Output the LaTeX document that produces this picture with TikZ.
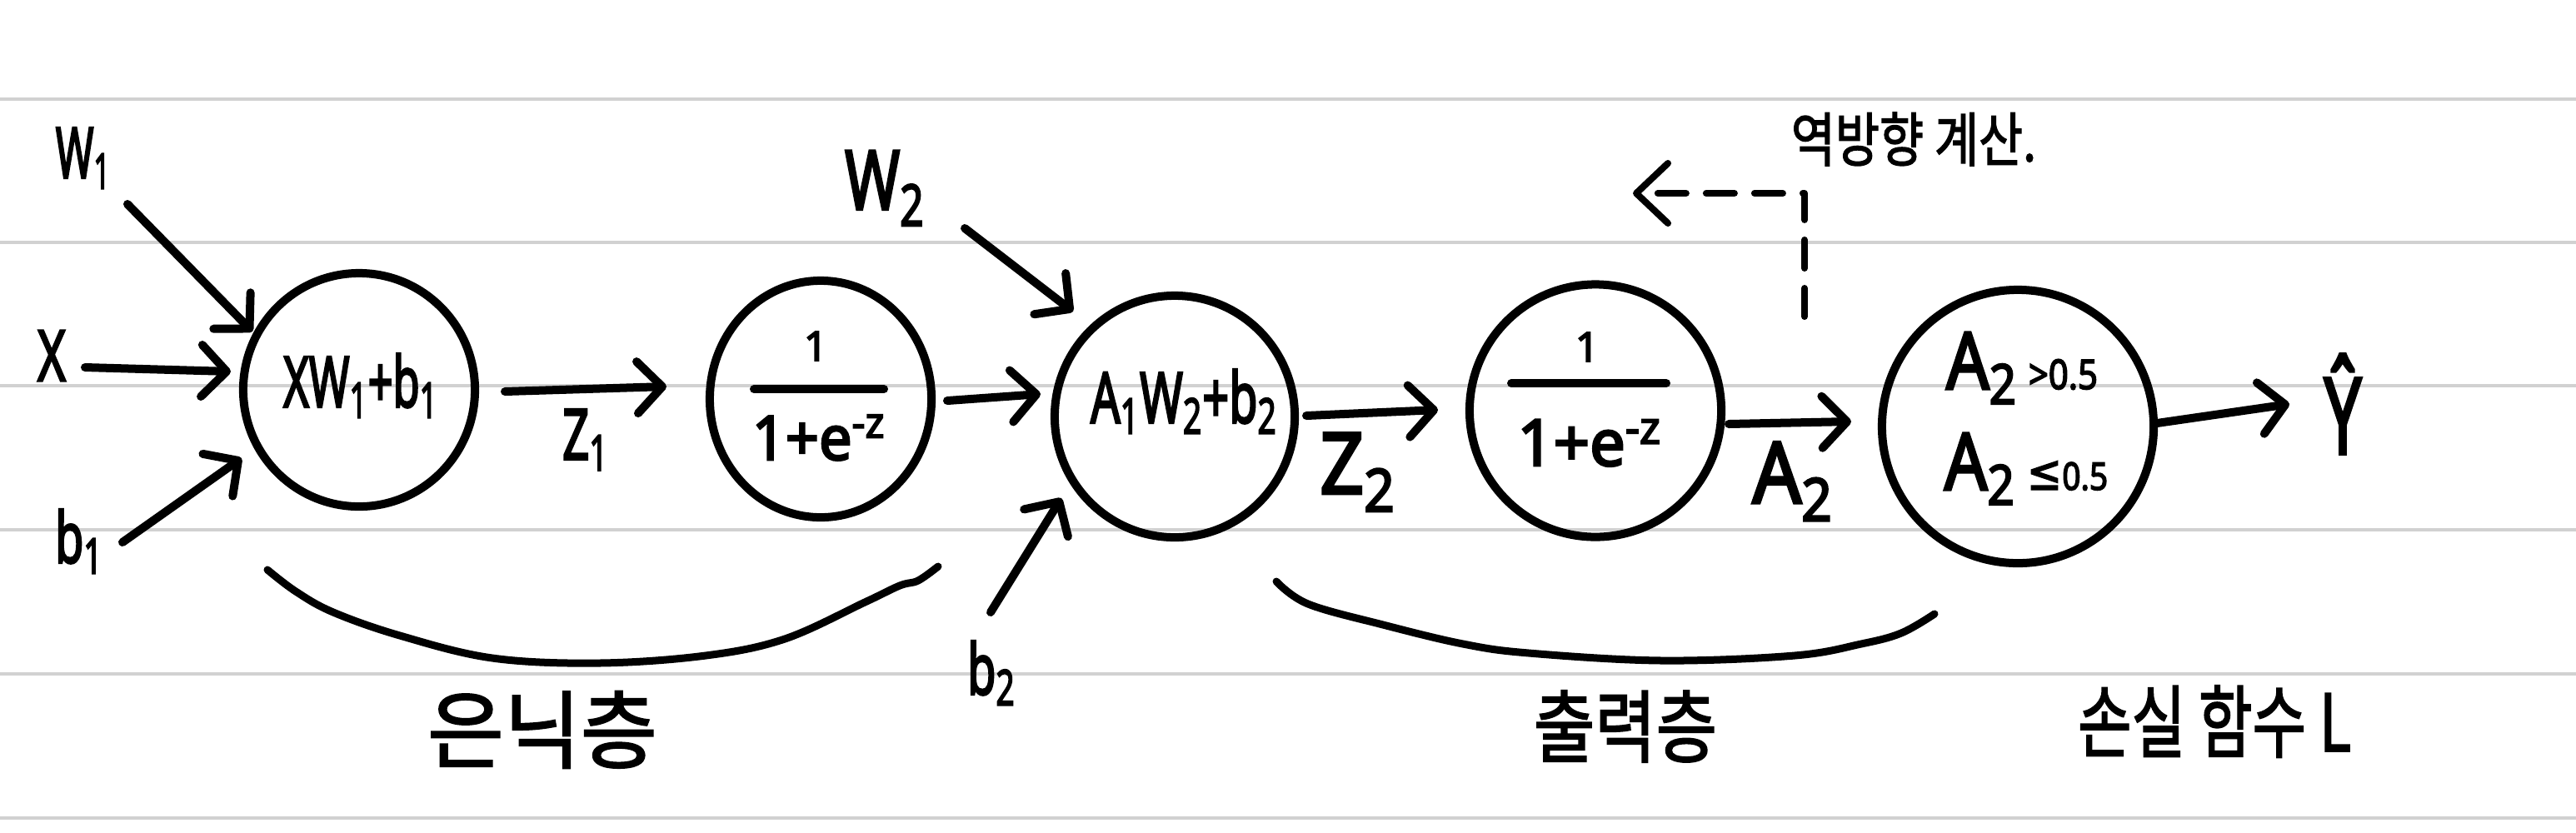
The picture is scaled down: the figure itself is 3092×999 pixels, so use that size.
\documentclass[tikz,border=0pt]{standalone}
\usepackage{fontspec}
\usepackage{graphicx}
\setmainfont{Noto Sans}
\newfontfamily\hwf{Noto Sans}[FakeBold=3.5]
\newfontfamily\kr{Noto Sans CJK KR}[FakeBold=2]
\newfontfamily\dv{DejaVu Sans}[FakeBold=2]
\usetikzlibrary{arrows.meta,shapes.geometric}
\newcommand{\hw}[2][0.7]{\scalebox{#1}[1]{#2}}
\tikzset{
  pen/.style={line width=0.1cm, line cap=round, line join=round},
  neuron/.style={pen, draw, ellipse, inner sep=0pt},
  arr/.style={pen, -{Straight Barb[length=0.3cm,width=0.62cm,round]}},
  lbl/.style={inner sep=0pt, font=\hwf\fontsize{24}{24}\selectfont},
  kor/.style={inner sep=0pt, font=\kr\fontsize{27}{27}\selectfont},
  ruled/.style={line width=0.046cm, draw=black!18},
  brace/.style={line width=0.09cm, line cap=round},
}
\begin{document}
\begin{tikzpicture}[x=0.01cm,y=-0.01cm]
\useasboundingbox (0,0) rectangle (3092,999);
\foreach \yy in {119,291,463,636,809,982} \draw[ruled] (0,\yy) -- (3092,\yy);

% neurons
\node[neuron, minimum width=2.78cm, minimum height=2.80cm] (c1) at (431,468) {};
\node[neuron, minimum width=2.66cm, minimum height=2.84cm] (c2) at (985,479) {};
\node[neuron, minimum width=2.88cm, minimum height=2.90cm] (c3) at (1410,500) {};
\node[neuron, minimum width=3.02cm, minimum height=3.03cm] (c4) at (1915,493) {};
\node[neuron, minimum width=3.26cm, minimum height=3.28cm] (c5) at (2422,512) {};

% texts in neurons
\node[lbl] (c1t) at ([shift={(2,-5)}]c1.center) {\hw[0.62]{XW\textsubscript{1}+b\textsubscript{1}}};
\node[lbl, font=\hwf\fontsize{14}{14}\selectfont, anchor=base] (c2n) at ([shift={(-6,-46)}]c2.center) {1};
\draw[pen] ([shift={(-80,-12)}]c2.center) coordinate (c2bl) -- ([shift={(76,-12)}]c2.center) coordinate (c2br);
\node[lbl, font=\hwf\fontsize{21}{21}\selectfont, anchor=base] (c2d) at ([shift={(-2,73)}]c2.center) {\hw[0.95]{1+e\textsuperscript{-z}}};
\node[lbl] (c3t) at ([shift={(11,-18)}]c3.center) {\hw[0.66]{A\textsubscript{1}W\textsubscript{2}+b\textsubscript{2}}};
\node[lbl, font=\hwf\fontsize{14}{14}\selectfont, anchor=base] (c4n) at ([shift={(-10,-59)}]c4.center) {1};
\draw[pen] ([shift={(-101,-33)}]c4.center) coordinate (c4bl) -- ([shift={(85,-33)}]c4.center) coordinate (c4br);
\node[lbl, font=\hwf\fontsize{22}{22}\selectfont, anchor=base] (c4d) at ([shift={(-7,66)}]c4.center) {\hw[0.98]{1+e\textsuperscript{-z}}};
\node[lbl, font=\hwf\fontsize{27}{27}\selectfont, anchor=base] (c5a) at ([shift={(5,-45)}]c5.center) {\hw[0.85]{A\textsubscript{2}\,{\fontsize{14}{14}\selectfont >0.5}}};
\node[lbl, font=\hwf\fontsize{27}{27}\selectfont, anchor=base] (c5b) at ([shift={(10,76)}]c5.center) {\hw[0.85]{A\textsubscript{2}\,{\fontsize{17}{17}\selectfont\dv ≤}{\fontsize{13}{13}\selectfont 0.5}}};

% input / output labels
\node[lbl] (w1) at (100,190) {\hw[0.58]{W\textsubscript{1}}};
\node[lbl] (x) at (62,427) {\hw[0.68]{X}};
\node[lbl] (b1) at (95,650) {\hw[0.66]{b\textsubscript{1}}};
\node[lbl, font=\hwf\fontsize{28}{28}\selectfont] (w2) at (1062,226) {\hw[0.72]{W\textsubscript{2}}};
\node[lbl] (b2) at (1190,808) {\hw[0.66]{b\textsubscript{2}}};
\node[lbl] (z1) at (703,528) {\hw[0.66]{Z\textsubscript{1}}};
\node[lbl, font=\hwf\fontsize{29}{29}\selectfont] (z2) at (1630,567) {\hw[0.9]{Z\textsubscript{2}}};
\node[lbl, font=\hwf\fontsize{29}{29}\selectfont] (a2) at (2152,578) {\hw[0.9]{A\textsubscript{2}}};
\node[lbl, font=\hwf\fontsize{36}{36}\selectfont] (yhat) at (2812,485) {\hw[0.62]{Ŷ}};

% connectors
\draw[arr] ([shift={(53,55)}]w1.center) -- ([shift={(-128,-70)}]c1.center);
\draw[arr] ([shift={(40,14)}]x.center) -- ([shift={(-154,-22)}]c1.center);
\draw[arr] ([shift={(52,1)}]b1.center) -- ([shift={(-141,82)}]c1.center);
\draw[arr] ([shift={(175,2)}]c1.center) -- ([shift={(-185,-15)}]c2.center);
\draw[arr] ([shift={(152,2)}]c2.center) -- ([shift={(-161,-27)}]c3.center);
\draw[arr] ([shift={(96,48)}]w2.center) -- ([shift={(-122,-126)}]c3.center);
\draw[arr] ([shift={(-1,-73)}]b2.center) -- ([shift={(-136,98)}]c3.center);
\draw[arr] ([shift={(158,-1)}]c3.center) -- ([shift={(-189,-1)}]c4.center);
\draw[arr] ([shift={(160,16)}]c4.center) -- ([shift={(-200,-6)}]c5.center);
\draw[arr] ([shift={(167,-4)}]c5.center) -- ([shift={(-64,0)}]yhat.center);

% backward computation
\coordinate (bstart) at (2166,380);
\coordinate (bend) at (1960,232);
\draw[pen, line width=0.08cm, dash pattern=on 0.34cm off 0.24cm, -{Straight Barb[length=0.38cm,width=0.72cm,round]}] (bstart) |- (bend);
\node[kor, font=\kr\fontsize{20}{20}\selectfont] (back) at (2297,167) {\hw[0.82]{역방향 계산.}};

% braces
\draw[brace] plot[smooth, tension=0.6] coordinates {(321,684) (355,710) (400,735) (480,763) (591,790) (719,796) (847,787) (942,767) (1038,723) (1080,703) (1102,697) (1126,680)};
\draw[brace] plot[smooth, tension=0.6] coordinates {(1532,698) (1570,725) (1660,750) (1756,773) (1835,784) (1995,793) (2154,787) (2234,773) (2282,760) (2322,737)};

% layer labels
\node[kor, font=\kr\fontsize{29}{29}\selectfont] (hid) at (651,876) {\hw[0.98]{은닉층}};
\node[kor] (outl) at (1951,872) {\hw[0.84]{출력층}};
\node[kor] (loss) at (2658,866) {\hw[0.74]{손실 함수 L}};
\end{tikzpicture}
\end{document}
